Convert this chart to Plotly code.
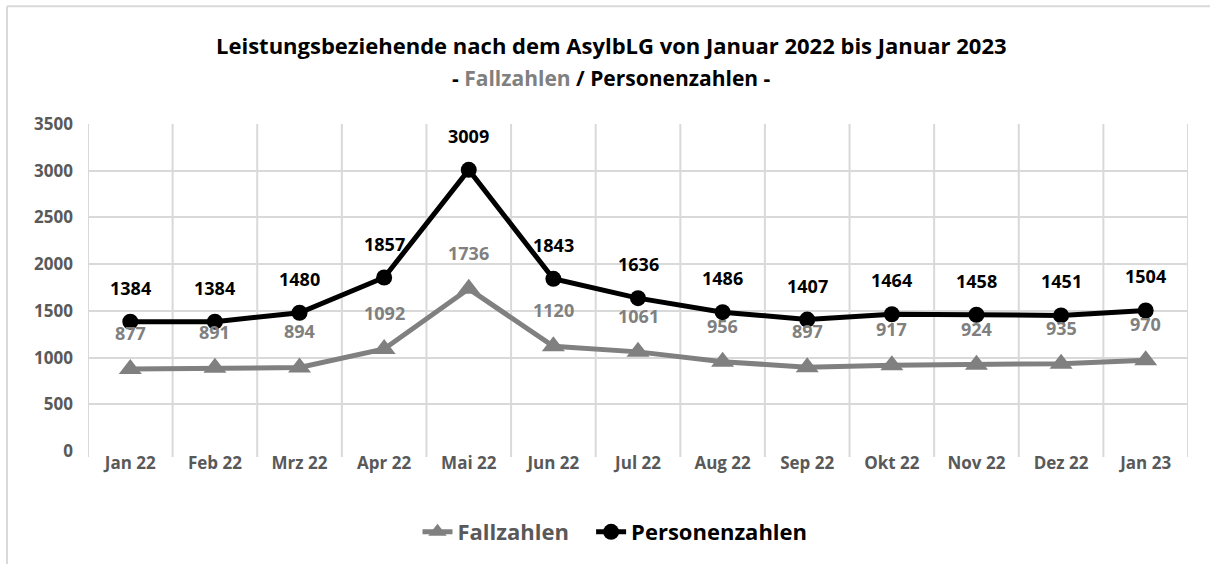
import plotly.graph_objects as go

months = ["Jan 22", "Feb 22", "Mrz 22", "Apr 22", "Mai 22", "Jun 22", "Jul 22",
          "Aug 22", "Sep 22", "Okt 22", "Nov 22", "Dez 22", "Jan 23"]
fallzahlen = [877, 891, 894, 1092, 1736, 1120, 1061, 956, 897, 917, 924, 935, 970]
personenzahlen = [1384, 1384, 1480, 1857, 3009, 1843, 1636, 1486, 1407, 1464, 1458, 1451, 1504]
y_ticks = [0, 500, 1000, 1500, 2000, 2500, 3000, 3500]

FONT = "'Open Sans', Lato, sans-serif"
GREY = "#808080"
AXIS_GREY = "#595959"
GRID = "#d9d9d9"

W, H = 1210, 564
L, R, T, B = 88, 22, 124, 112
pw, ph = W - L - R, H - T - B


def px(x):
    return (x - L) / pw


def py(y):
    return (H - B - y) / ph


fig = go.Figure()
fig.add_trace(go.Scatter(
    x=months, y=fallzahlen,
    name="<span style='color:#595959'>Fallzahlen</span>&nbsp;&nbsp;&nbsp;",
    mode="lines+markers",
    line=dict(color=GREY, width=5),
    marker=dict(symbol="triangle-up", size=20, color=GREY),
))
fig.add_trace(go.Scatter(
    x=months, y=personenzahlen,
    name="<span style='color:black'>Personenzahlen</span>",
    mode="lines+markers",
    line=dict(color="black", width=5),
    marker=dict(symbol="circle", size=16, color="black"),
))

annotations = []
for m, v in zip(months, fallzahlen):
    annotations.append(dict(x=m, y=v, xref="x", yref="y", text=str(v),
                            showarrow=False, yshift=36,
                            font=dict(family=FONT, size=18, color=GREY, weight="bold")))
for m, v in zip(months, personenzahlen):
    annotations.append(dict(x=m, y=v, xref="x", yref="y", text=str(v),
                            showarrow=False, yshift=34,
                            font=dict(family=FONT, size=18, color="black", weight="bold")))
annotations.append(dict(x=px(611), y=py(45), xref="paper", yref="paper", yanchor="middle",
                        showarrow=False,
                        text="Leistungsbeziehende nach dem AsylbLG von Januar 2022 bis Januar 2023",
                        font=dict(family=FONT, size=22, color="black", weight="bold")))
annotations.append(dict(x=px(611), y=py(78), xref="paper", yref="paper", yanchor="middle",
                        showarrow=False,
                        text="- <span style='color:#808080'>Fallzahlen</span> / Personenzahlen -",
                        font=dict(family=FONT, size=21, color="black", weight="bold")))

fig.update_layout(
    width=W, height=H,
    margin=dict(l=L, r=R, t=T, b=B),
    plot_bgcolor="white", paper_bgcolor="white",
    font=dict(family=FONT, color=AXIS_GREY),
    showlegend=True,
    legend=dict(orientation="h", x=px(615), xanchor="center", y=py(532), yanchor="middle",
                font=dict(family=FONT, size=22, color=AXIS_GREY, weight="bold")),
    annotations=annotations,
    xaxis=dict(type="category", showgrid=False, showline=False, ticks="",
               tickfont=dict(family=FONT, size=17, color=AXIS_GREY, weight="bold"),
               range=[-0.5, 12.5]),
    yaxis=dict(range=[0, 3500], tickvals=y_ticks, showgrid=True, gridcolor=GRID,
               gridwidth=2, zeroline=False, showline=False,
               tickfont=dict(family=FONT, size=17, color=AXIS_GREY, weight="bold"),
               ticklabelstandoff=14),
)

# vertical category gridlines (between categories)
for i in range(len(months) + 1):
    fig.add_shape(type="line", xref="x", yref="paper", x0=i - 0.5, x1=i - 0.5,
                  y0=-6 / ph, y1=1, line=dict(color=GRID, width=2), layer="below")
# chart border (left and top edges visible)
fig.add_shape(type="line", xref="paper", yref="paper", x0=px(7), x1=px(1215),
              y0=py(6), y1=py(6), line=dict(color=GRID, width=2))
fig.add_shape(type="line", xref="paper", yref="paper", x0=px(7), x1=px(7),
              y0=py(6), y1=py(570), line=dict(color=GRID, width=2))

fig.write_html("out.html", config={"displayModeBar": False},
               post_script="document.body.style.margin='0';")
